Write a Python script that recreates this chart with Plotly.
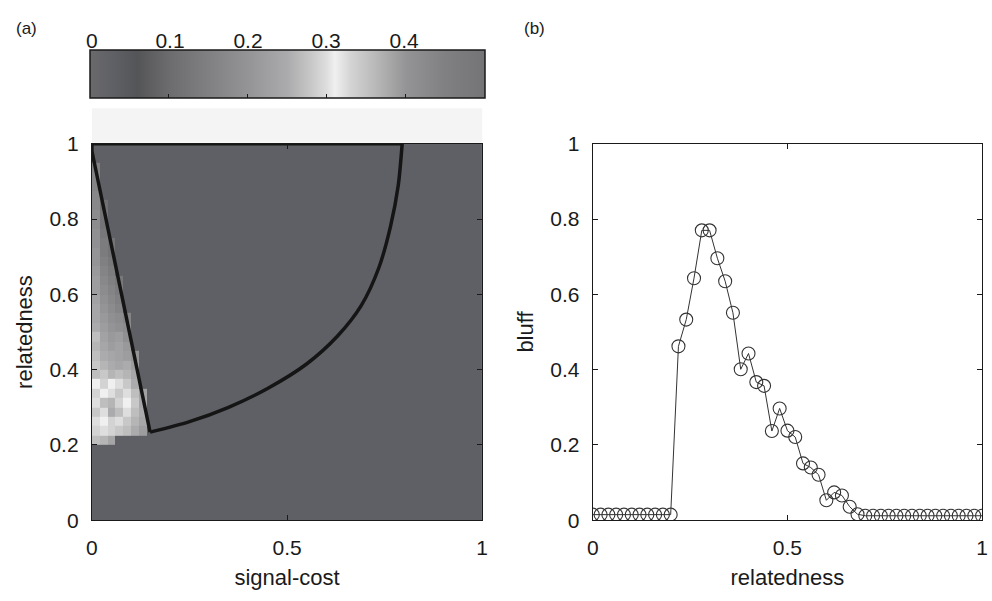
import plotly.graph_objects as go

# ---------------- data ----------------
# Panel (a): heatmap cells (signal-cost x relatedness)
background_value = 0.03
cost_edges = [0.0, 0.02, 0.04, 0.06, 0.08, 0.10, 0.12, 0.14, 0.16, 1.0]
rel_edges = [0.0, 0.2, 0.225, 0.25, 0.275, 0.3, 0.325, 0.35, 0.375, 0.4, 0.425,
             0.45, 0.475, 0.5, 0.525, 0.55, 0.575, 0.6, 0.625, 0.65, 0.675, 0.7,
             0.725, 0.75, 0.775, 0.8, 0.825, 0.85, 0.875, 0.9, 0.925, 0.95, 0.975, 1.0]
B = background_value
bluff_rows = [
    [B, B, B, B, B, B, B, B, B],
    [0.27, 0.26, 0.24, B, B, B, B, B, B],
    [0.29, 0.30, 0.29, 0.28, 0.27, 0.25, 0.22, B, B],
    [0.30, 0.31, 0.29, 0.30, 0.28, 0.26, 0.24, B, B],
    [0.28, 0.30, 0.25, 0.27, 0.30, 0.27, 0.25, B, B],
    [0.30, 0.27, 0.26, 0.29, 0.31, 0.28, 0.24, B, B],
    [0.29, 0.31, 0.30, 0.28, 0.30, 0.27, 0.23, B, B],
    [0.31, 0.29, 0.31, 0.30, 0.28, 0.25, B, B, B],
    [0.27, 0.28, 0.26, 0.27, 0.26, 0.24, B, B, B],
    [0.28, 0.26, 0.25, 0.24, 0.25, 0.22, B, B, B],
    [0.27, 0.25, 0.24, 0.23, 0.22, 0.20, B, B, B],
    [0.26, 0.24, 0.22, 0.23, 0.21, B, B, B, B],
    [0.27, 0.23, 0.21, 0.22, 0.19, B, B, B, B],
    [0.25, 0.22, 0.20, 0.19, 0.18, B, B, B, B],
    [0.24, 0.21, 0.19, 0.18, 0.16, B, B, B, B],
    [0.24, 0.20, 0.18, 0.16, B, B, B, B, B],
    [0.23, 0.19, 0.17, 0.15, B, B, B, B, B],
    [0.22, 0.18, 0.16, 0.14, B, B, B, B, B],
    [0.22, 0.17, 0.15, 0.13, B, B, B, B, B],
    [0.21, 0.16, 0.14, B, B, B, B, B, B],
    [0.20, 0.15, 0.13, B, B, B, B, B, B],
    [0.20, 0.14, 0.12, B, B, B, B, B, B],
    [0.19, 0.14, 0.12, B, B, B, B, B, B],
    [0.19, 0.13, B, B, B, B, B, B, B],
    [0.18, 0.12, B, B, B, B, B, B, B],
    [0.18, 0.12, B, B, B, B, B, B, B],
    [0.17, 0.11, B, B, B, B, B, B, B],
    [0.17, B, B, B, B, B, B, B, B],
    [0.16, B, B, B, B, B, B, B, B],
    [0.16, B, B, B, B, B, B, B, B],
    [0.15, B, B, B, B, B, B, B, B],
    [B, B, B, B, B, B, B, B, B],
    [B, B, B, B, B, B, B, B, B],
]

# boundary of the honest-signalling region
edge_cost = [0.795, 0.0, 0.0, 0.149]
edge_rel = [1.0, 1.0, 0.98, 0.234]
curve_cost = [0.149, 0.25, 0.35, 0.45, 0.55, 0.63, 0.69, 0.735, 0.765, 0.785, 0.795]
curve_rel = [0.234, 0.262, 0.30, 0.35, 0.415, 0.49, 0.57, 0.67, 0.78, 0.89, 1.0]

colorbar_ticks = [0, 0.1, 0.2, 0.3, 0.4]
colorbar_labels = ["0", "0.1", "0.2", "0.3", "0.4"]

# Panel (b): bluff vs relatedness
relatedness = [0.00, 0.02, 0.04, 0.06, 0.08, 0.10, 0.12, 0.14, 0.16, 0.18,
               0.20, 0.22, 0.24, 0.26, 0.28, 0.30, 0.32, 0.34, 0.36, 0.38,
               0.40, 0.42, 0.44, 0.46, 0.48, 0.50, 0.52, 0.54, 0.56, 0.58,
               0.60, 0.62, 0.64, 0.66, 0.68, 0.70, 0.72, 0.74, 0.76, 0.78,
               0.80, 0.82, 0.84, 0.86, 0.88, 0.90, 0.92, 0.94, 0.96, 0.98, 1.00]
bluff = [0.015, 0.015, 0.015, 0.015, 0.015, 0.015, 0.015, 0.015, 0.015, 0.015,
         0.015, 0.462, 0.533, 0.643, 0.770, 0.770, 0.696, 0.635, 0.551, 0.401,
         0.443, 0.367, 0.357, 0.237, 0.297, 0.238, 0.221, 0.151, 0.140, 0.121,
         0.053, 0.074, 0.066, 0.036, 0.016, 0.012, 0.012, 0.012, 0.012, 0.012,
         0.012, 0.012, 0.012, 0.012, 0.012, 0.012, 0.012, 0.012, 0.012, 0.012, 0.012]

# ---------------- figure ----------------
FONT = "Liberation Sans, Arial, Helvetica, sans-serif"
INK = "#1a1a1a"
TICK_SIZE = 21
TITLE_SIZE = 22

gray_scale = [
    [0.00, "#6a6a6c"], [0.06, "#5f6065"], [0.12, "#545557"], [0.20, "#6c6c6e"],
    [0.30, "#808082"], [0.40, "#949496"], [0.50, "#ababad"], [0.56, "#c8c8c8"],
    [0.60, "#dedede"], [0.62, "#f0f0f0"], [0.66, "#d4d4d4"], [0.72, "#bababa"],
    [0.80, "#949496"], [0.90, "#808082"], [1.00, "#747476"],
]

bar_top = 1 - 50 / 601
bar_bottom = 1 - 98 / 601

fig = go.Figure()

fig.add_trace(go.Heatmap(
    x=cost_edges, y=rel_edges, z=bluff_rows,
    zmin=0, zmax=0.5, colorscale=gray_scale,
    xaxis="x", yaxis="y", hoverinfo="skip",
    colorbar=dict(
        orientation="h", lenmode="pixels", len=395, thickness=48,
        x=(87 + 482) / 2 / 992, xanchor="center",
        y=bar_top + 10 / 601, yanchor="top", xpad=0, ypad=0,
        outlinecolor=INK, outlinewidth=1.5,
        tickvals=colorbar_ticks, ticks="inside", ticklen=4, tickcolor=INK,
        showticklabels=False,
    ),
))

line_style = dict(color="#151515", width=3.5)
fig.add_trace(go.Scatter(
    x=edge_cost, y=edge_rel, mode="lines", line=line_style,
    xaxis="x", yaxis="y", hoverinfo="skip", showlegend=False, cliponaxis=False,
))
fig.add_trace(go.Scatter(
    x=curve_cost, y=curve_rel, mode="lines", line=dict(shape="spline", smoothing=0.8, **line_style),
    xaxis="x", yaxis="y", hoverinfo="skip", showlegend=False, cliponaxis=False,
))

# invisible carrier trace for the colour-bar tick axis
fig.add_trace(go.Scatter(
    x=colorbar_ticks, y=[0] * len(colorbar_ticks), mode="markers",
    marker=dict(opacity=0), xaxis="x3", yaxis="y3", hoverinfo="skip", showlegend=False,
))

fig.add_trace(go.Scatter(
    x=relatedness, y=bluff, mode="lines+markers",
    line=dict(color="#333333", width=1),
    marker=dict(symbol="circle-open", size=13, color="#333333", line=dict(width=1.1)),
    xaxis="x2", yaxis="y2", hoverinfo="skip", showlegend=False,
))

y_dom = [1 - 528.5 / 601, 1 - 137 / 601]

axis_common = dict(
    showgrid=False, zeroline=False, showline=True, linecolor=INK, linewidth=1.2,
    mirror="ticks", ticks="inside", ticklen=5, tickcolor=INK,
    tickfont=dict(family=FONT, size=TICK_SIZE, color=INK),
    ticklabelstandoff=8,
)
title_font = dict(family=FONT, size=TITLE_SIZE, color=INK)

fig.update_layout(
    width=992, height=601,
    margin=dict(l=0, r=0, t=0, b=0),
    paper_bgcolor="white", plot_bgcolor="white",
    showlegend=False,
    font=dict(family=FONT, size=TICK_SIZE, color=INK),
    xaxis=dict(domain=[87 / 992, 482 / 992], range=[0, 1], anchor="y",
               tickvals=[0, 0.5, 1], ticktext=["0", "0.5", "1"],
               title=dict(text="signal-cost", font=title_font, standoff=12),
               **axis_common),
    yaxis=dict(domain=y_dom, range=[0, 1], anchor="x",
               tickvals=[0, 0.2, 0.4, 0.6, 0.8, 1], ticktext=["0", "0.2", "0.4", "0.6", "0.8", "1"],
               title=dict(text="relatedness", font=title_font, standoff=10),
               **axis_common),
    xaxis2=dict(domain=[594 / 992, 988 / 992], range=[0, 1], anchor="y2",
                tickvals=[0, 0.5, 1], ticktext=["0", "0.5", "1"],
                title=dict(text="relatedness", font=title_font, standoff=12),
                **axis_common),
    yaxis2=dict(domain=y_dom, range=[0, 1], anchor="x2",
                tickvals=[0, 0.2, 0.4, 0.6, 0.8, 1], ticktext=["0", "0.2", "0.4", "0.6", "0.8", "1"],
                title=dict(text="bluff", font=title_font, standoff=10),
                **axis_common),
    xaxis3=dict(domain=[87 / 992, 482 / 992], range=[0, 0.5], anchor="y3", side="top",
                showgrid=False, zeroline=False, showline=False, ticks="",
                tickvals=colorbar_ticks, ticktext=colorbar_labels,
                tickfont=dict(family=FONT, size=TICK_SIZE, color=INK)),
    yaxis3=dict(domain=[bar_bottom, 1 - 43 / 601], range=[-1, 1], anchor="x3", visible=False),
    shapes=[dict(type="rect", xref="paper", yref="paper",
                 x0=87 / 992, x1=482 / 992, y0=y_dom[1] + 1 / 601, y1=bar_bottom - 2 / 601,
                 fillcolor="#f4f4f4", line=dict(width=0), layer="below")],
    annotations=[
        dict(text="(a)", x=8 / 992, y=1 - 5 / 601, xref="paper", yref="paper",
             xanchor="left", yanchor="top", showarrow=False,
             font=dict(family=FONT, size=17, color=INK)),
        dict(text="(b)", x=522 / 992, y=1 - 5 / 601, xref="paper", yref="paper",
             xanchor="left", yanchor="top", showarrow=False,
             font=dict(family=FONT, size=17, color=INK)),
    ],
)

fig.write_html("out.html")
